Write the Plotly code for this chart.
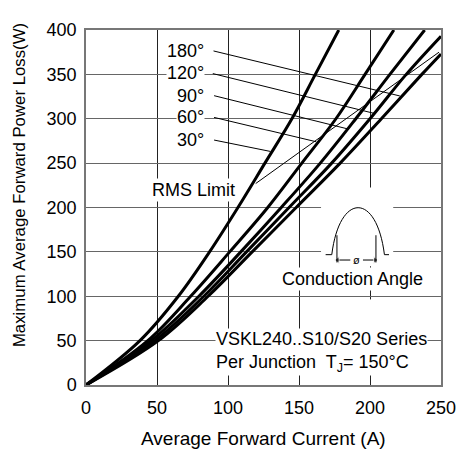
import plotly.graph_objects as go

# ---- data ----
power_levels = [0, 50, 100, 150, 200, 250, 300, 350, 400]
cur_30 = [0, 38, 65, 87, 107, 126, 145, 161.5, 178]
cur_60 = [0, 43.5, 73.7, 101.2, 128, 152, 176, 196.5, 216.8]
cur_90 = [0, 46, 79.5, 109, 137.5, 165, 190, 214, 238.5]
cur_120 = [0, 48.5, 83, 113, 143, 173, 200, 225.5, 250]
pow_120 = [0, 50, 100, 150, 200, 250, 300, 350, 393]
cur_180 = [0, 51, 86, 117, 148, 179, 208, 236.5, 250]
pow_180 = [0, 50, 100, 150, 200, 250, 300, 350, 373]

rms_cur = [119.5, 248.6]
rms_pow = [227, 375]

angle_labels = ["180°", "120°", "90°", "60°", "30°"]
label_pos_x = [70, 70, 73.5, 73.5, 73.5]
label_pos_y = [376.5, 351, 326, 301.5, 276]
leader_start_x = [89.8, 89.3, 90.2, 90.2, 90.2]
leader_start_y = [376.4, 350.9, 326, 301.5, 276]
leader_end_x = [221, 203.3, 184.7, 162.1, 129.8]
leader_end_y = [325.7, 305.9, 288.4, 274.1, 263.2]

FONT = "Arial, Liberation Sans, sans-serif"

# page-pixel -> data helper for decorations (plot area spans x 86..450, y 20..385 on the page)
def px2d(px, py):
    return (px - 86) / 1.456, (385 - py) / 0.9125

def P(px, py):
    x, y = px2d(px, py)
    return f"{x:.2f},{y:.2f}"

fig = go.Figure()

curves = [(cur_30, power_levels), (cur_60, power_levels), (cur_90, power_levels),
          (cur_120, pow_120), (cur_180, pow_180)]
for xs, ys in curves:
    fig.add_trace(go.Scatter(x=xs, y=ys, mode="lines",
                             line=dict(color="black", width=3, shape="spline", smoothing=1.0),
                             showlegend=False, hoverinfo="skip"))

fig.add_trace(go.Scatter(x=rms_cur, y=rms_pow, mode="lines",
                         line=dict(color="black", width=1), showlegend=False, hoverinfo="skip"))

for i in range(len(angle_labels)):
    fig.add_trace(go.Scatter(x=[leader_start_x[i], leader_end_x[i]],
                             y=[leader_start_y[i], leader_end_y[i]], mode="lines",
                             line=dict(color="black", width=1), showlegend=False, hoverinfo="skip"))

# arrows of the conduction-angle glyph
ax0, ay = px2d(344, 256.5)
ax1, _ = px2d(382.5, 256.5)
mx_l, _ = px2d(357, 256.5)
mx_r, _ = px2d(370, 256.5)
fig.add_trace(go.Scatter(x=[mx_l, ax0], y=[ay, ay], mode="lines+markers",
                         line=dict(color="black", width=1),
                         marker=dict(symbol=["circle", "triangle-left"], size=[0, 6], color="black"),
                         showlegend=False, hoverinfo="skip"))
fig.add_trace(go.Scatter(x=[mx_r, ax1], y=[ay, ay], mode="lines+markers",
                         line=dict(color="black", width=1),
                         marker=dict(symbol=["circle", "triangle-right"], size=[0, 6], color="black"),
                         showlegend=False, hoverinfo="skip"))

annotations = []
for i, lab in enumerate(angle_labels):
    annotations.append(dict(x=label_pos_x[i], y=label_pos_y[i], xref="x", yref="y", text=lab,
                            showarrow=False, font=dict(family=FONT, size=18, color="black"),
                            bgcolor="white", borderpad=0))

rx, ry = px2d(196.5, 184)
annotations.append(dict(x=rx, y=ry, xref="x", yref="y", text="RMS Limit", showarrow=False,
                        font=dict(family=FONT, size=18, color="black"), bgcolor="white", borderpad=1))
cx, cy = px2d(359.5, 276)
annotations.append(dict(x=cx, y=cy, xref="x", yref="y", text="Conduction Angle", showarrow=False,
                        font=dict(family=FONT, size=18, color="black"), bgcolor="white", borderpad=1))
vx, vy = px2d(218, 351)
annotations.append(dict(x=vx, y=vy, xref="x", yref="y",
                        text="VSKL240..S10/S20 Series<br>Per Junction  T<sub>J</sub>= 150°C",
                        xanchor="left", align="left", showarrow=False,
                        font=dict(family=FONT, size=18, color="black"), bgcolor="white", borderpad=0))
ox, oy = px2d(363.5, 256.5)
annotations.append(dict(x=ox, y=oy, xref="x", yref="y", text="ø", showarrow=False,
                        font=dict(family=FONT, size=11, color="black"), borderpad=0))
# axis titles
annotations.append(dict(x=0.5, y=-0.151, xref="paper", yref="paper", text="Average Forward Current (A)",
                        showarrow=False, yanchor="middle",
                        font=dict(family=FONT, size=19, color="black")))
annotations.append(dict(x=-0.187, y=0.562, xref="paper", yref="paper",
                        text="Maximum Average Forward Power Loss(W)", textangle=-90,
                        showarrow=False, xanchor="center", yanchor="middle",
                        font=dict(family=FONT, size=16.8, color="black")))

shapes = []
# white covers that interrupt the grid behind the glyph
x0, y0 = px2d(327, 263)
x1, y1 = px2d(401, 182)
shapes.append(dict(type="rect", xref="x", yref="y", x0=x0, y0=y0, x1=x1, y1=y1,
                   fillcolor="white", line=dict(width=0), layer="between"))
x0, y0 = px2d(372, 330)
x1, y1 = px2d(382, 297)
shapes.append(dict(type="rect", xref="x", yref="y", x0=x0, y0=y0, x1=x1, y1=y1,
                   fillcolor="white", line=dict(width=0), layer="between"))
arch = (f"M {P(331.7,251)} L {P(338,251)} C {P(346,186.6)} {P(384,186.6)} {P(392,251)} L {P(396.7,251)}")
shapes.append(dict(type="path", xref="x", yref="y", path=arch, line=dict(color="black", width=1)))
for vxp in (343.3, 383.3):
    a, b = px2d(vxp, 231)
    c, d = px2d(vxp, 259)
    shapes.append(dict(type="line", xref="x", yref="y", x0=a, y0=b, x1=c, y1=d,
                       line=dict(color="black", width=1)))

fig.update_layout(
    width=460, height=442,
    margin=dict(l=78, r=18, t=12, b=65),
    paper_bgcolor="white", plot_bgcolor="white",
    annotations=annotations, shapes=shapes,
    font=dict(family=FONT, size=18, color="black"),
)
fig.update_xaxes(range=[0, 250], dtick=50, tick0=0, showgrid=True, gridcolor="#222", gridwidth=1,
                 showline=True, mirror=True, linecolor="#777", linewidth=1.5, zeroline=False,
                 ticks="", ticklabelstandoff=6, tickfont=dict(family=FONT, size=18, color="black"))
fig.update_yaxes(range=[0, 400], dtick=50, tick0=0, showgrid=True, gridcolor="#666", gridwidth=1,
                 showline=True, mirror=True, linecolor="#777", linewidth=1.5, zeroline=False,
                 ticks="", ticklabelstandoff=4, tickfont=dict(family=FONT, size=18, color="black"))

fig.write_html("out.html")
